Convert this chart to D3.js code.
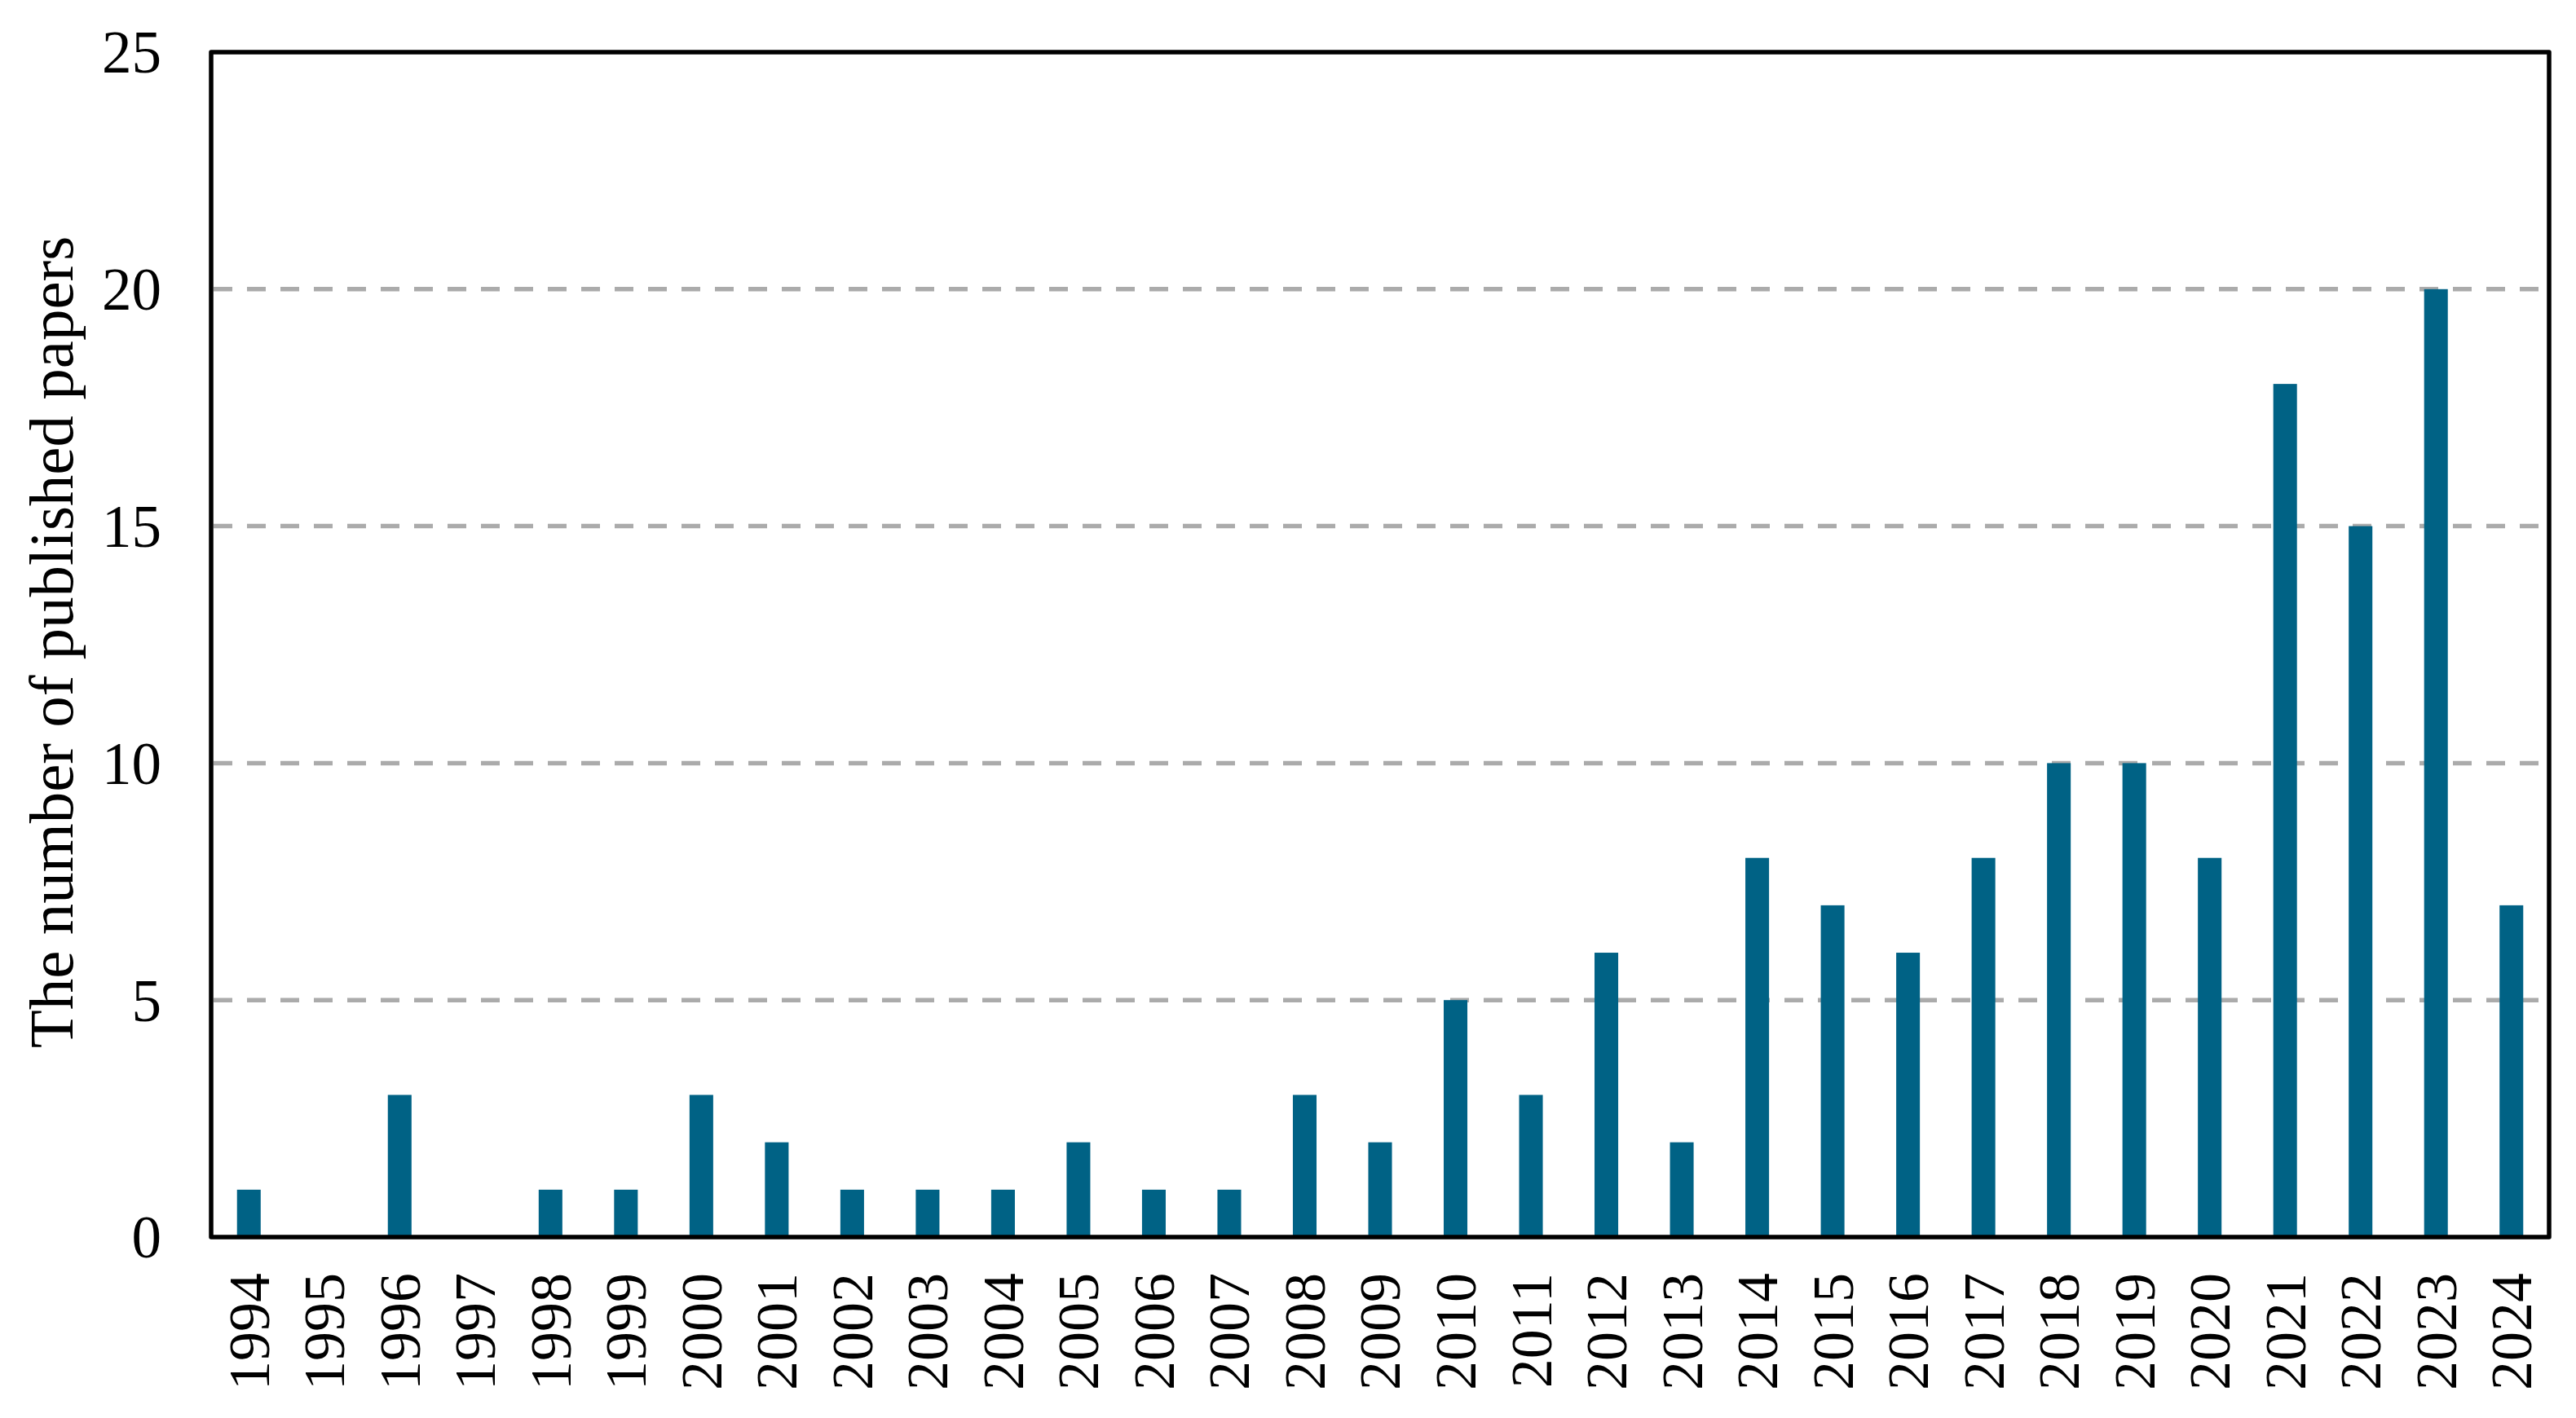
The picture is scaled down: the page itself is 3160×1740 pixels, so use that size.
<!DOCTYPE html>
<html>
<head>
<meta charset="utf-8">
<script src="https://cdn.jsdelivr.net/npm/d3@7"></script>
<style>
  html, body { margin: 0; padding: 0; background: #ffffff; }
  svg { display: block; }
  text { font-family: "Liberation Serif", "Times New Roman", serif; fill: #000; }
</style>
</head>
<body>
<svg id="chart" width="3160" height="1740"></svg>
<script>
const years = ["1994","1995","1996","1997","1998","1999","2000","2001","2002","2003","2004",
  "2005","2006","2007","2008","2009","2010","2011","2012","2013","2014","2015","2016","2017",
  "2018","2019","2020","2021","2022","2023","2024"];
const papers = [1,0,3,0,1,1,3,2,1,1,1,2,1,1,3,2,5,3,6,2,8,7,6,8,10,10,8,18,15,20,7];
const yTicks = [0,5,10,15,20,25];
const gridTicks = [5,10,15,20];
const yTitle = "The number of published papers";

const plotL = 259, plotR = 3127, plotT = 64, plotB = 1518;

const svg = d3.select("#chart");

const x = d3.scaleBand().domain(years).range([plotL, plotR]).paddingInner(0.686).paddingOuter(0.343);
const y = d3.scaleLinear().domain([0, 25]).range([plotB, plotT]);

// gridlines
svg.append("g").selectAll("line").data(gridTicks).join("line")
  .attr("x1", plotL + 3).attr("x2", plotR - 3)
  .attr("y1", d => y(d)).attr("y2", d => y(d))
  .attr("stroke", "#ababab").attr("stroke-width", 5.5)
  .attr("stroke-dasharray", "23,18");

// bars
svg.append("g").selectAll("rect").data(years.map((yr, i) => ({yr, v: papers[i]}))).join("rect")
  .attr("x", d => x(d.yr)).attr("width", x.bandwidth())
  .attr("y", d => y(d.v)).attr("height", d => y(0) - y(d.v))
  .attr("fill", "#006285");

// y axis
const yAxis = svg.append("g").attr("transform", `translate(${plotL},0)`)
  .call(d3.axisLeft(y).tickValues(yTicks).tickSize(0).tickPadding(61).tickFormat(d3.format("d")));
yAxis.select(".domain").remove();
yAxis.selectAll("text").style("font-size", "73px").attr("dy", "0.34em");

// x axis
const xAxis = svg.append("g").attr("transform", `translate(0,${plotB})`)
  .call(d3.axisBottom(x).tickSize(0));
xAxis.select(".domain").remove();
xAxis.selectAll("text")
  .style("font-size", "72px")
  .attr("transform", "rotate(-90)")
  .attr("text-anchor", "end")
  .attr("x", -44).attr("y", 0).attr("dy", "0.34em");

// frame
svg.append("rect")
  .attr("x", plotL).attr("y", plotT).attr("width", plotR - plotL).attr("height", plotB - plotT)
  .attr("fill", "none").attr("stroke", "#000").attr("stroke-width", 5.5).attr("stroke-linejoin", "round");

// y title
svg.append("text")
  .attr("transform", `translate(89, ${(plotT + plotB) / 2 - 3}) rotate(-90)`)
  .attr("text-anchor", "middle")
  .style("font-size", "77px")
  .text(yTitle);
</script>
</body>
</html>
